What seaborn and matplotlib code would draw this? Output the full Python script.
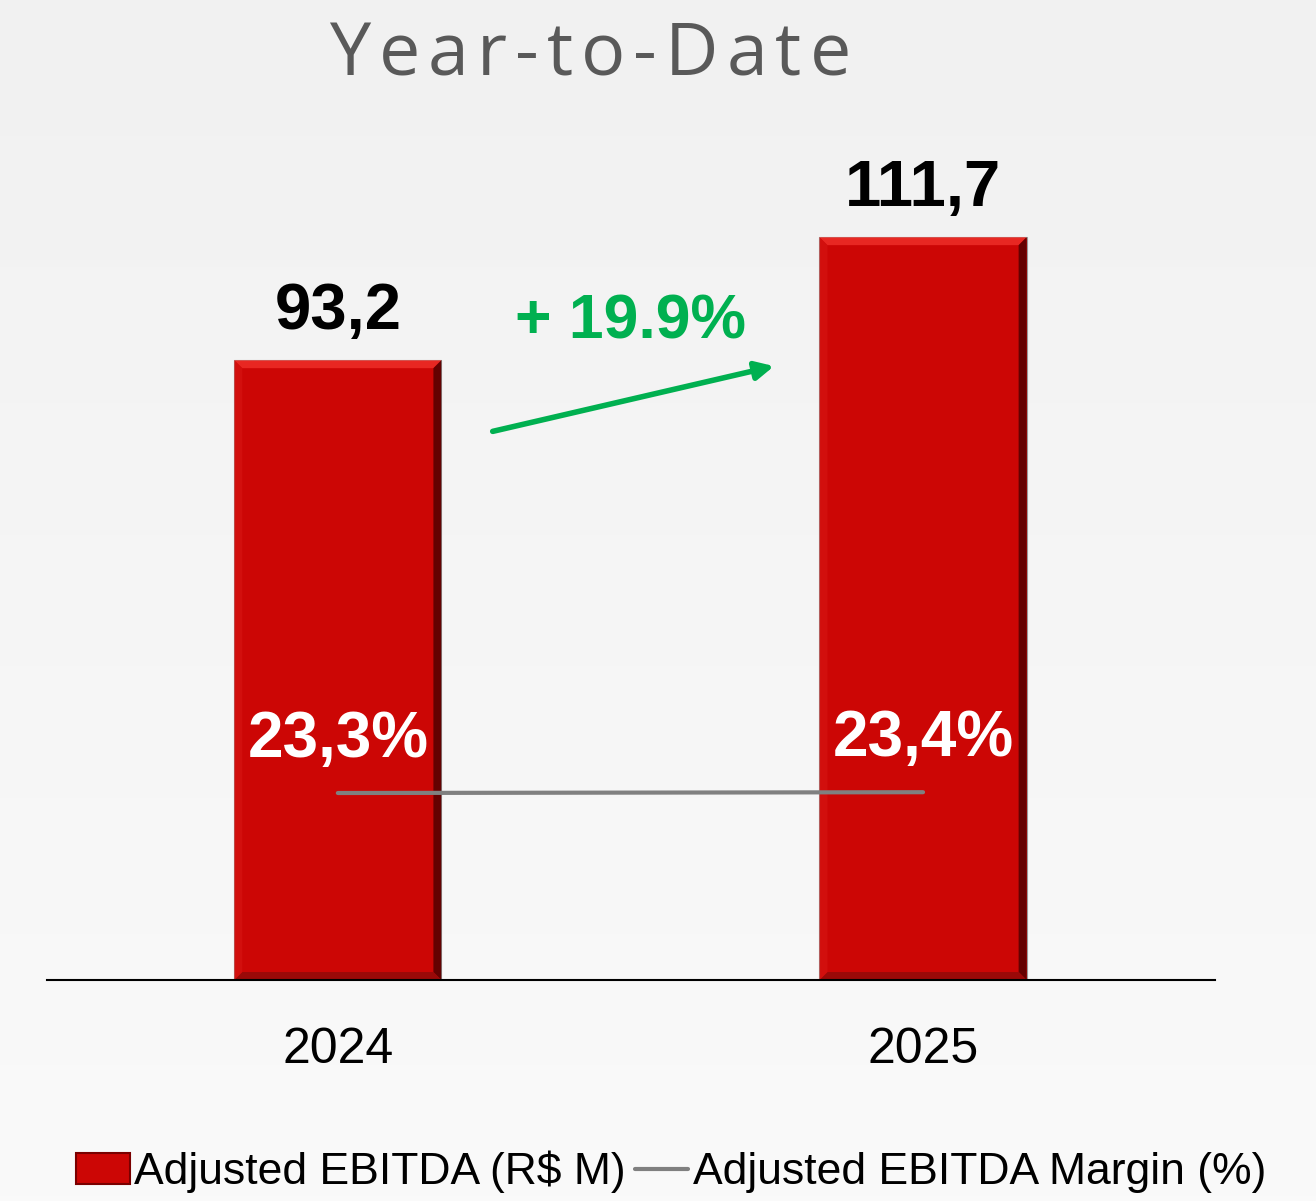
import matplotlib
matplotlib.use("Agg")
import matplotlib.pyplot as plt
import numpy as np
import pandas as pd
import seaborn as sns
from matplotlib.colors import LinearSegmentedColormap
from matplotlib.lines import Line2D
from matplotlib.patches import Patch, Polygon

years = ["2024", "2025"]
ebitda = [93.2, 111.7]
margin = [23.3, 23.4]
growth_pct = 19.9
title = "Year-to-Date"
bar_label = "Adjusted EBITDA (R$ M)"
line_label = "Adjusted EBITDA Margin (%)"

RED = "#CC0605"
GREEN = "#00B050"
GRAY = "#808080"

sns.set_theme(style="white")
plt.rcParams["font.family"] = ["Liberation Sans", "DejaVu Sans"]

fig = plt.figure(figsize=(13.16, 12.01), dpi=100)

# soft vertical gradient background
bg = fig.add_axes([0, 0, 1, 1], zorder=-10)
grad = np.linspace(0, 1, 256).reshape(-1, 1)
bg.imshow(grad, aspect="auto", cmap=LinearSegmentedColormap.from_list("bg", ["#F1F1F1", "#FAFAFA"]),
          extent=[0, 1, 0, 1], origin="upper")
bg.set_axis_off()

ax = fig.add_axes([0.0357, 0.184, 0.8876, 0.7077])
ax.patch.set_alpha(0)
df = pd.DataFrame({"year": years, "ebitda": ebitda, "margin": margin})
sns.barplot(data=df, x="year", y="ebitda", color=RED, width=0.354, saturation=1,
            edgecolor="#9A9A9A", linewidth=0.8, ax=ax)
ax.set_ylim(0, 127.8)
ax.set_xlim(-0.497, 1.499)
ax.set_xlabel("")
ax.set_ylabel("")
ax.set_yticks([])
for s in ["top", "right", "left"]:
    ax.spines[s].set_visible(False)
ax.spines["bottom"].set_color("black")
ax.spines["bottom"].set_linewidth(1.5)
ax.spines["bottom"].set_zorder(5)
ax.tick_params(axis="x", length=0, pad=34, labelsize=36, labelcolor="black")

# bevel edges on each bar, built from the bar geometry
bx, by = 8 / 585, 8 / 6.652
for p in ax.patches:
    x0, y0, w, h = p.get_x(), p.get_y(), p.get_width(), p.get_height()
    x1, y1 = x0 + w, y0 + h
    sides = [
        ([(x0, y1), (x1, y1), (x1 - bx, y1 - by), (x0 + bx, y1 - by)], "#F0302A"),
        ([(x1, y1), (x1, y0), (x1 - bx, y0 + by), (x1 - bx, y1 - by)], "#4A0000"),
        ([(x0, y0), (x1, y0), (x1 - bx, y0 + by), (x0 + bx, y0 + by)], "#8E0A0A"),
        ([(x0, y0), (x0, y1), (x0 + bx, y1 - by), (x0 + bx, y0 + by)], "#D41210"),
    ]
    for pts, c in sides:
        ax.add_patch(Polygon(pts, closed=True, facecolor=c, edgecolor="none", alpha=0.8,
                             zorder=p.get_zorder() + 0.1))

for i, v in enumerate(ebitda):
    ax.annotate(f"{v:.1f}".replace(".", ","), (i, v), xytext=(0, 13), textcoords="offset points",
                ha="center", va="bottom", fontsize=47, fontweight="bold", color="black")

ax2 = ax.twinx()
ax2.set_ylim(0, 105.9)
sns.lineplot(x=np.arange(len(years)), y=margin, color=GRAY, linewidth=3, ax=ax2)
ax2.set_axis_off()
for i, v in enumerate(margin):
    ax2.annotate(f"{v:.1f}".replace(".", ",") + "%", (i, v), xytext=(0, 38), textcoords="offset points",
                 ha="center", va="center", fontsize=46, fontweight="bold", color="white")

ax.annotate("", xy=(0.75, 92.4), xytext=(0.26, 82.4),
            arrowprops=dict(arrowstyle="-|>,head_length=0.9,head_width=0.45", color=GREEN, lw=4))
ax.text(0.50, 99.0, f"+ {growth_pct:.1f}%", ha="center", va="center", fontsize=45,
        fontweight="bold", color=GREEN)

# title with wide letter spacing
renderer = fig.canvas.get_renderer()
tkw = dict(fontsize=53, color="#595959", family=["Open Sans", "DejaVu Sans"], va="center", ha="left")
gap = 8
chars = [fig.text(0, 0.953, ch, **tkw) for ch in title]
widths = [t.get_window_extent(renderer).width for t in chars]
total = sum(widths) + gap * (len(chars) - 1)
x = 590 - total / 2
for t, w in zip(chars, widths):
    t.set_x(x / 1316)
    x += w + gap

handles = [Patch(facecolor=RED, edgecolor="#7A0000", linewidth=1.5),
           Line2D([], [], color=GRAY, linewidth=3)]
fig.legend(handles, [bar_label, line_label], loc="center", bbox_to_anchor=(0.51, 0.024),
           ncol=2, frameon=False, fontsize=32, handlelength=1.2, handleheight=0.7,
           handletextpad=0.1, columnspacing=0.2, labelcolor="black")

fig.savefig("out.png", dpi=100)
